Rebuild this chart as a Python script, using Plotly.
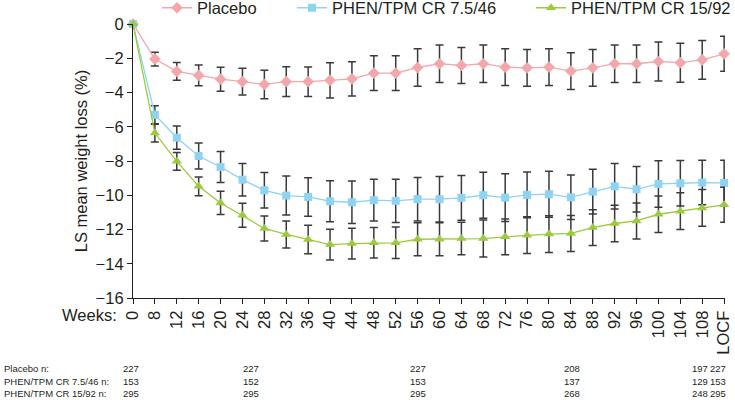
import plotly.graph_objects as go

week_labels = ["0", "8", "12", "16", "20", "24", "28", "32", "36", "40", "44", "48", "52", "56",
               "60", "64", "68", "72", "76", "80", "84", "88", "92", "96", "100", "104", "108", "LOCF"]

placebo = [0, -2.05, -2.77, -3.0, -3.22, -3.37, -3.53, -3.37, -3.37, -3.29, -3.2, -2.87, -2.87, -2.54,
           -2.32, -2.42, -2.32, -2.52, -2.56, -2.52, -2.75, -2.56, -2.32, -2.32, -2.19, -2.26, -2.09, -1.74]
placebo_err = [0, 0.4, 0.52, 0.6, 0.7, 0.78, 0.83, 0.87, 0.86, 1.03, 1.0, 1.02, 1.02, 1.09,
               1.09, 1.05, 1.09, 1.07, 1.07, 1.07, 1.07, 1.07, 1.1, 1.1, 1.14, 1.14, 1.13, 1.02]

low_dose = [0, -5.3, -6.64, -7.71, -8.35, -9.09, -9.71, -10.02, -10.1, -10.35, -10.41, -10.29, -10.33, -10.23,
            -10.23, -10.15, -10.0, -10.14, -9.98, -9.94, -10.12, -9.79, -9.48, -9.65, -9.34, -9.3, -9.26, -9.28]
low_dose_err = [0, 0.53, 0.68, 0.76, 0.9, 0.95, 1.04, 1.14, 1.12, 1.2, 1.24, 1.22, 1.26, 1.27,
                1.33, 1.31, 1.35, 1.4, 1.34, 1.34, 1.3, 1.31, 1.33, 1.33, 1.36, 1.33, 1.3, 1.32]

high_dose = [0, -6.37, -8.02, -9.48, -10.45, -11.17, -11.94, -12.29, -12.58, -12.88, -12.82, -12.78, -12.78, -12.57,
             -12.57, -12.53, -12.53, -12.43, -12.33, -12.27, -12.23, -11.89, -11.65, -11.5, -11.11, -10.93, -10.74, -10.56]
high_dose_err = [0, 0.52, 0.52, 0.55, 0.68, 0.7, 0.73, 0.79, 0.83, 0.9, 0.9, 0.89, 0.92, 0.97,
                 0.97, 0.95, 1.08, 1.05, 1.07, 1.07, 1.05, 1.05, 1.07, 1.05, 1.07, 1.07, 1.07, 1.02]

series_names = ["Placebo", "PHEN/TPM CR 7.5/46", "PHEN/TPM CR 15/92"]

n_row_labels = ["Placebo n:", "PHEN/TPM CR 7.5/46 n:", "PHEN/TPM CR 15/92 n:"]
n_placebo = ["227", "227", "227", "208", "197", "227"]
n_low = ["153", "152", "153", "137", "129", "153"]
n_high = ["295", "295", "295", "268", "248", "295"]

# ---- layout constants ----
W, H = 735, 400
L, R, T, B = 133, 10, 24, 102
PW, PH = W - L - R, H - T - B
FONT = "Liberation Sans, Arial, sans-serif"
INK = "#231f20"
colors = ["#f4a7ab", "#8fd3f2", "#9bcb3c"]
symbols = ["diamond", "square", "triangle-up"]
msizes = [9, 8, 9]
legend_px = [157, 292, 531]
n_col_px = [131, 250.5, 417.5, 572, 699.5, 718]
n_row_py = [368, 381, 393.5]

x_idx = list(range(len(week_labels)))

def px_to_paper_x(px):
    return (px - L) / PW

def py_to_paper_y(py):
    return (H - B - py) / PH

fig = go.Figure()
all_vals = [placebo, low_dose, high_dose]
all_errs = [placebo_err, low_dose_err, high_dose_err]
legend_ids = ["legend", "legend2", "legend3"]
for i in range(3):
    fig.add_trace(go.Scatter(
        x=x_idx, y=all_vals[i], name=series_names[i], mode="lines+markers",
        line=dict(color=colors[i], width=1.3),
        marker=dict(symbol=symbols[i], size=msizes[i], color=colors[i]),
        error_y=dict(type="data", array=all_errs[i], visible=True,
                     color="#3a3a3a", thickness=1.5, width=4),
        cliponaxis=False, legend=legend_ids[i],
    ))

legend_common = dict(orientation="h", xanchor="left", yanchor="middle",
                     y=py_to_paper_y(8), font=dict(family=FONT, size=16.5, color=INK),
                     bgcolor="rgba(0,0,0,0)", borderwidth=0)

annotations = [dict(text="Weeks:", xref="paper", yref="paper",
                    x=px_to_paper_x(119), y=py_to_paper_y(315), xanchor="right", yanchor="middle",
                    showarrow=False, font=dict(family=FONT, size=16.5, color=INK))]

for r, lab in enumerate(n_row_labels):
    annotations.append(dict(text=lab, xref="paper", yref="paper",
                            x=px_to_paper_x(2), y=py_to_paper_y(n_row_py[r]),
                            xanchor="left", yanchor="middle", showarrow=False,
                            font=dict(family=FONT, size=9.5, color=INK)))
for r, row in enumerate([n_placebo, n_low, n_high]):
    for c, val in enumerate(row):
        annotations.append(dict(text=val, xref="paper", yref="paper",
                                x=px_to_paper_x(n_col_px[c]), y=py_to_paper_y(n_row_py[r]),
                                xanchor="center", yanchor="middle", showarrow=False,
                                font=dict(family=FONT, size=9.5, color=INK)))

fig.update_layout(
    width=W, height=H, margin=dict(l=L, r=R, t=T, b=B, autoexpand=False),
    paper_bgcolor="white", plot_bgcolor="white",
    font=dict(family=FONT, size=16.5, color=INK),
    legend=dict(x=px_to_paper_x(legend_px[0]), **legend_common),
    legend2=dict(x=px_to_paper_x(legend_px[1]), **legend_common),
    legend3=dict(x=px_to_paper_x(legend_px[2]), **legend_common),
    xaxis=dict(range=[0, 27.04], tickmode="array", tickvals=x_idx, ticktext=week_labels,
               tickangle=-90, showgrid=False, zeroline=False, showline=True,
               linecolor=INK, linewidth=1.2, ticks="outside", ticklen=5, tickwidth=1,
               tickcolor=INK, tickfont=dict(family=FONT, size=16.5, color=INK)),
    yaxis=dict(range=[-16, 0], dtick=2, showgrid=False, zeroline=False, showline=True,
               linecolor=INK, linewidth=1.2, ticks="outside", ticklen=5, tickwidth=1,
               tickcolor=INK, tickfont=dict(family=FONT, size=16.5, color=INK),
               title=dict(text="LS mean weight loss (%)", standoff=3,
                          font=dict(family=FONT, size=16.5, color=INK))),
    annotations=annotations,
    showlegend=True,
)

fig.write_html("out.html", config={"displayModeBar": False},
               post_script="document.body.style.margin='0';document.body.style.overflow='hidden';")
